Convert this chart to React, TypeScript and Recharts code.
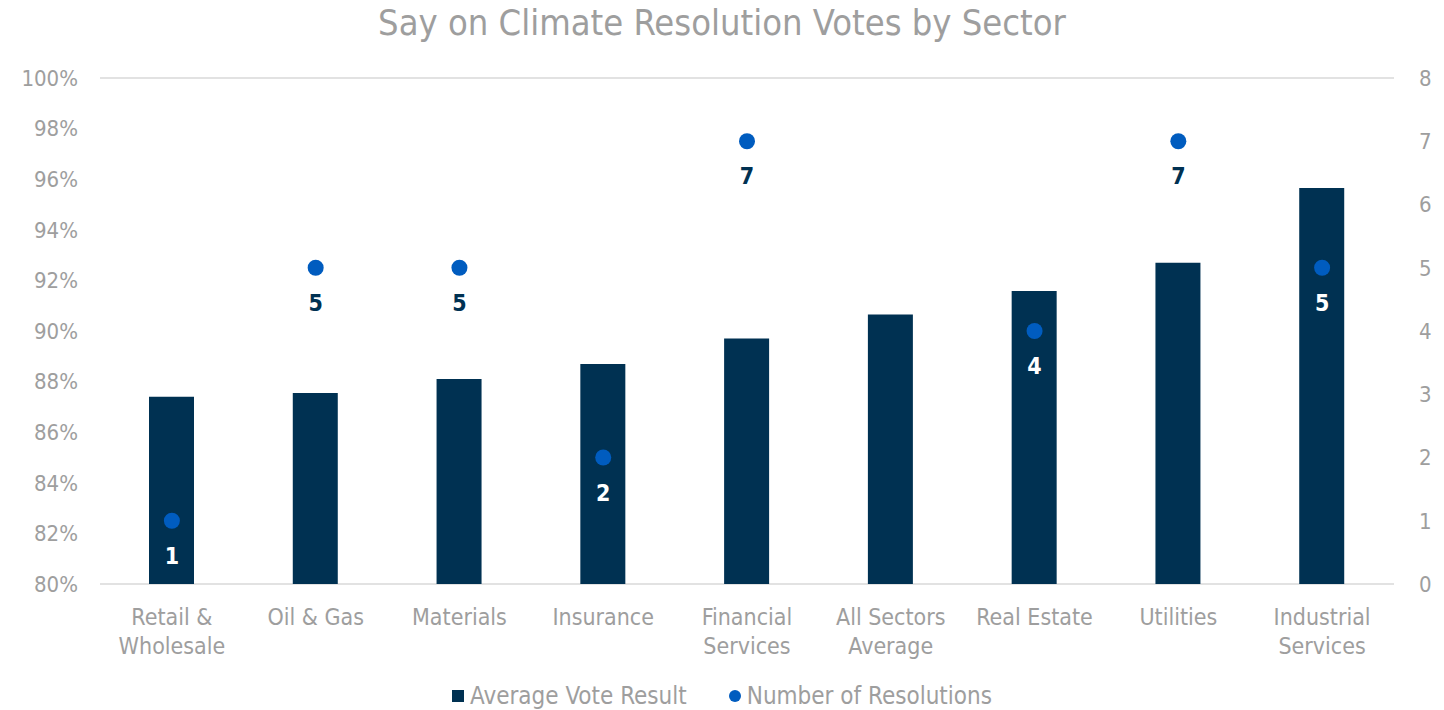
import { Bar, CartesianGrid, ComposedChart, Legend, Scatter, XAxis, YAxis } from "recharts";

const sectors = [
  "Retail &\nWholesale",
  "Oil & Gas",
  "Materials",
  "Insurance",
  "Financial\nServices",
  "All Sectors\nAverage",
  "Real Estate",
  "Utilities",
  "Industrial\nServices",
];
const avgVote = [87.4, 87.55, 88.1, 88.7, 89.7, 90.65, 91.58, 92.7, 95.65];
const resolutions: (number | null)[] = [1, 5, 5, 2, 7, null, 4, 7, 5];
const voteTicks = [80, 82, 84, 86, 88, 90, 92, 94, 96, 98, 100];
const countTicks = [0, 1, 2, 3, 4, 5, 6, 7, 8];

const FONT = "Tahoma, 'DejaVu Sans Condensed', 'DejaVu Sans', sans-serif";
const NAVY = "#003152";
const BLUE = "#005cbf";
const GREY = "#9e9e9e";

const data = sectors.map((name, i) => ({
  name,
  vote: avgVote[i],
  count: resolutions[i],
}));

function SectorTick({ x, y, payload }: any) {
  const lines = String(payload.value).split("\n");
  return (
    <text x={x} y={y} textAnchor="middle" fill={GREY} fontSize={23} fontFamily={FONT}>
      {lines.map((l, i) => (
        <tspan key={i} x={x} dy={i === 0 ? 33 : 29}>
          {l}
        </tspan>
      ))}
    </text>
  );
}

function Dot(props: any) {
  const { cx, cy, payload } = props;
  if (payload.count == null || !isFinite(cy)) return <g />;
  // white label when the dot sits inside the bar
  const inside = payload.count / 8 < (payload.vote - 80) / 20;
  return (
    <g>
      <circle cx={cx} cy={cy} r={8} fill={BLUE} />
      <text
        x={cx}
        y={cy + 43}
        textAnchor="middle"
        fontSize={23}
        fontWeight="bold"
        fontFamily={FONT}
        fill={inside ? "#ffffff" : NAVY}
      >
        {payload.count}
      </text>
    </g>
  );
}

function LegendContent() {
  return (
    <div
      style={{
        display: "flex",
        justifyContent: "center",
        alignItems: "center",
        fontFamily: FONT,
        fontSize: 24,
        color: GREY,
        gap: 42,
      }}
    >
      <span style={{ display: "flex", alignItems: "center" }}>
        <span style={{ width: 12, height: 12, background: NAVY, marginRight: 6 }} />
        Average Vote Result
      </span>
      <span style={{ display: "flex", alignItems: "center" }}>
        <span style={{ width: 12, height: 12, borderRadius: 6, background: BLUE, marginRight: 6 }} />
        Number of Resolutions
      </span>
    </div>
  );
}

export default function App() {
  return (
    <div style={{ position: "absolute", left: 0, top: 0, width: 1444, height: 710, background: "#fff" }}>
      <div
        style={{
          position: "absolute",
          top: 2,
          left: 0,
          width: 1444,
          textAlign: "center",
          fontFamily: FONT,
          fontSize: 36,
          color: GREY,
        }}
      >
        Say on Climate Resolution Votes by Sector
      </div>
      <ComposedChart
        width={1444}
        height={710}
        data={data}
        margin={{ top: 78, right: 0, bottom: 0, left: 0 }}
      >
        <CartesianGrid vertical={false} stroke="#e2e2e2" strokeWidth={2} />
        <XAxis
          dataKey="name"
          tick={<SectorTick />}
          tickLine={false}
          axisLine={false}
          interval={0}
          height={98}
        />
        <YAxis
          yAxisId="left"
          domain={[80, 100]}
          ticks={voteTicks}
          tickFormatter={(v) => `${v}%`}
          width={100}
          tickLine={false}
          axisLine={false}
          tickSize={6}
          tickMargin={16}
          tick={{ fill: GREY, fontSize: 22, fontFamily: FONT }}
          allowDataOverflow
        />
        <YAxis
          yAxisId="right"
          orientation="right"
          domain={[0, 8]}
          ticks={countTicks}
          width={50}
          tickLine={false}
          axisLine={false}
          tickSize={6}
          tickMargin={19}
          tick={{ fill: GREY, fontSize: 22, fontFamily: FONT, textAnchor: "start" }}
        />
        <Legend
          verticalAlign="bottom"
          content={<LegendContent />}
          wrapperStyle={{ top: 682, bottom: "auto", height: 28 }}
        />
        <Bar yAxisId="left" dataKey="vote" fill={NAVY} barSize={45} isAnimationActive={false} />
        <Scatter yAxisId="right" dataKey="count" fill={BLUE} shape={<Dot />} isAnimationActive={false} />
      </ComposedChart>
    </div>
  );
}
